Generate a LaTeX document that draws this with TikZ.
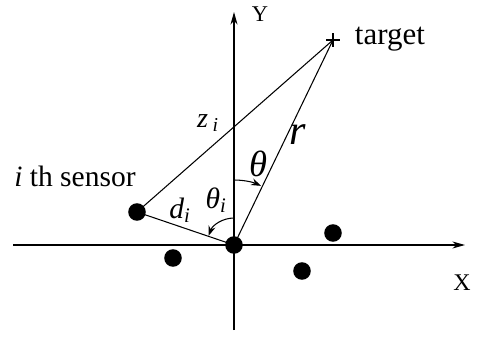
\documentclass[tikz,border=0pt]{standalone}
\usepackage{amsmath, amssymb}
\usepackage{fontspec}
\setmainfont{Liberation Serif}
\usepackage{tikz}
\usetikzlibrary{calc, arrows.meta, positioning}

\newcommand{\subit}[1]{\textsubscript{\itshape #1}}

\tikzset{
    sensordot/.style={circle, fill=black, inner sep=0pt, minimum size=12.5pt},
    axisline/.style={line width=0.8pt, -{Stealth[length=9pt, width=5pt]}},
    rayline/.style={line width=0.75pt},
    anglearc/.style={line width=0.75pt, -{Stealth[length=7pt, width=5pt]}}
}

\begin{document}
\begin{tikzpicture}[x=0.025cm, y=0.025cm]

    % =================================================================
    % 1. FRAME AND MAIN POINTS
    % =================================================================
    \useasboundingbox (0, 0) rectangle (478, 336);

    \coordinate (T) at (333, 296);
    \coordinate (XL) at (13, 91);
    \coordinate (XR) at (465, 91);
    \coordinate (YB) at (234, 6);
    \coordinate (YT) at (234, 324);

    % =================================================================
    % 2. AXES
    % =================================================================
    \draw[axisline] (XL) -- (XR);
    \draw[axisline] (YB) -- (YT);
    \node[font=\fontsize{16}{18}\selectfont] (ylab) at (260, 322) {Y};
    \node[font=\fontsize{17}{19}\selectfont] (xlab) at (462, 53) {X};

    % =================================================================
    % 3. SENSORS
    % =================================================================
    \node[sensordot] (O) at (234, 91) {};
    \node[sensordot] (S) at (137, 124) {};
    \node[sensordot] (s1) at (173, 78) {};
    \node[sensordot] (s2) at (302, 65) {};
    \node[sensordot] (s3) at (333, 103) {};

    % =================================================================
    % 4. TARGET AND LINES
    % =================================================================
    \draw[line width=0.9pt] ($(T)+(-7,0)$) -- ($(T)+(7,0)$);
    \draw[line width=0.9pt] ($(T)+(0,-7)$) -- ($(T)+(0,7)$);

    \draw[rayline] (S.center) -- (T);
    \draw[rayline] (O.center) -- (T);
    \draw[rayline] (S.center) -- (O.center);

    % angles theta and theta_i
    \draw[anglearc] ($(O.center)+(90:65)$) arc[start angle=90, end angle=65.5, radius=65];
    \draw[anglearc] ($(O.center)+(90:27)$) arc[start angle=90, end angle=160, radius=27];

    % =================================================================
    % 5. LABELS
    % =================================================================
    \node[anchor=west, font=\fontsize{22}{26}\selectfont] (tlab) at (350, 297) {target};
    \node[anchor=base west, font=\fontsize{21}{25}\selectfont, inner sep=0pt] (slab) at (14, 150) {\textit{i} th sensor};

    \node[font=\fontsize{20}{24}\selectfont\itshape] (zlab) at (208, 213) {z\,\subit{i}};
    \node[font=\fontsize{30}{34}\selectfont\itshape] (rlab) at (298, 201) {r};
    \node[font=\fontsize{26}{30}\selectfont\itshape] (thlab) at (258, 172) {θ};
    \node[font=\fontsize{21}{24}\selectfont\itshape] (thilab) at (216, 136) {θ\subit{i}};
    \node[font=\fontsize{21}{24}\selectfont\itshape] (dlab) at (180, 126) {d\subit{i}};

\end{tikzpicture}
\end{document}
